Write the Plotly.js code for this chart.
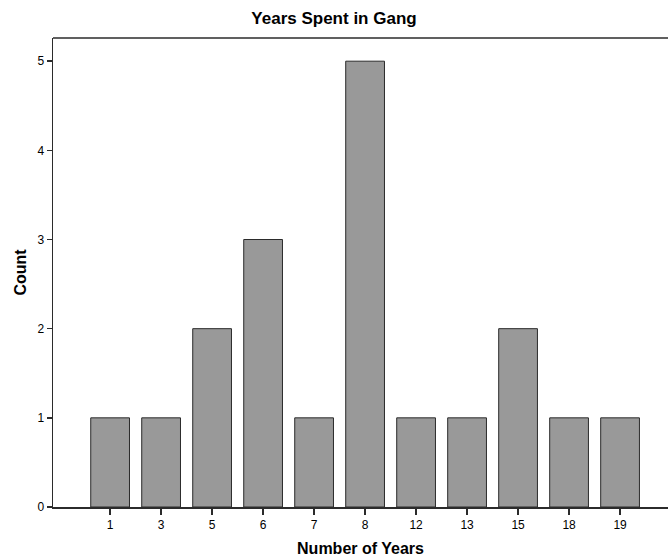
<!DOCTYPE html>
<html>
<head>
<meta charset="utf-8">
<script src="https://cdn.plot.ly/plotly-3.0.1.min.js"></script>
<style>html,body{margin:0;padding:0;background:#fff;}#chart{width:668px;height:559px;}</style>
</head>
<body>
<div id="chart"></div>
<script>
const categories = ["1", "3", "5", "6", "7", "8", "12", "13", "15", "18", "19"];
const counts = [1, 1, 2, 3, 1, 5, 1, 1, 2, 1, 1];
const yTicks = [0, 1, 2, 3, 4, 5];

const trace = {
  type: 'bar',
  x: categories,
  y: counts,
  marker: { color: '#999999', line: { color: '#2b2b2b', width: 1 } },
  hoverinfo: 'x+y'
};

const layout = {
  width: 668, height: 559,
  margin: { l: 53, r: 0, t: 38, b: 52, pad: 0 },
  paper_bgcolor: '#ffffff', plot_bgcolor: '#ffffff',
  bargap: 0.24,
  showlegend: false,
  font: { family: 'Liberation Sans, Arial, sans-serif', color: '#000' },
  title: { text: '<b>Years Spent in Gang</b>', x: 0.5, xanchor: 'center', y: 0.967, yanchor: 'middle', font: { size: 17, color: '#000' } },
  xaxis: {
    type: 'category',
    range: [-1.12, 10.94],
    showline: true, linecolor: '#2b2b2b', linewidth: 1.5,
    ticks: 'outside', ticklen: 6, tickcolor: '#2b2b2b', tickwidth: 1.5,
    tickfont: { size: 12, color: '#000' },
    showgrid: false, zeroline: false,
    title: { text: '<b>Number of Years</b>', font: { size: 16, color: '#000' }, standoff: 12 }
  },
  yaxis: {
    range: [0, 5.26],
    tickvals: yTicks,
    showline: true, linecolor: '#2b2b2b', linewidth: 1.5,
    ticks: 'outside', ticklen: 5, tickcolor: '#2b2b2b', tickwidth: 1.5,
    tickfont: { size: 12, color: '#000' },
    showgrid: false, zeroline: false,
    title: { text: '<b>Count</b>', font: { size: 16, color: '#000' }, standoff: 7 }
  },
  shapes: [
    { type: 'line', xref: 'paper', yref: 'paper', x0: 0, x1: 1, y0: 1, y1: 1, line: { color: '#2b2b2b', width: 1.5 } }
  ]
};

Plotly.newPlot('chart', [trace], layout, { displayModeBar: false, staticPlot: true });
</script>
</body>
</html>
